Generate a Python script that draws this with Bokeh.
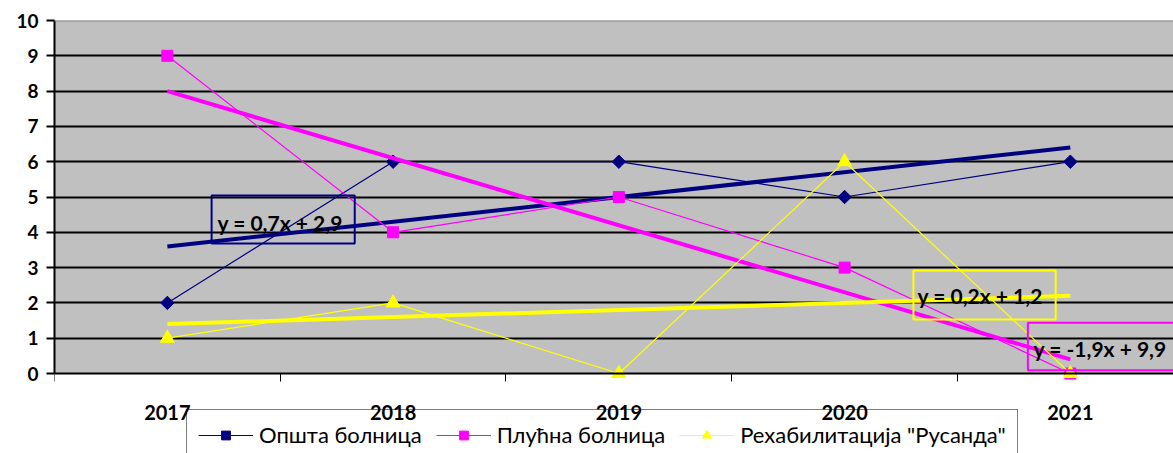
import numpy as np
from bokeh.plotting import figure
from bokeh.models import (Range1d, FixedTicker, Legend, LegendItem, LinearAxis,
                          BoxAnnotation, Label, Span)
from bokeh.embed import file_html
from bokeh.resources import INLINE

# ---- data ----
years = ["2017", "2018", "2019", "2020", "2021"]
opsta = [2, 6, 6, 5, 6]
plucna = [9, 4, 5, 3, 0]
rehab = [1, 2, 0, 6, 0]
series_names = ["Општа болница", "Плућна болница", "Рехабилитација \"Русанда\""]
colors = ["#000080", "#FF00FF", "#FFFF00"]
markers = ["square", "square", "triangle"]
marker_angles = [np.pi / 4, 0, 0]
marker_sizes = [9.5, 11, 14]
y_ticks = list(range(0, 11))

# equation box positions (data units): left, right, bottom, top, text x, text y
eq_boxes = [
    (1.196, 1.830, 3.68, 5.04, 1.222, 4.28),
    (4.812, 5.700, 0.09, 1.44, 4.837, 0.71),
    (4.305, 4.935, 1.53, 2.92, 4.323, 2.21),
]

x = np.arange(1, len(years) + 1)
FONT = "Lato"

p = figure(width=1173, height=453,
           x_range=Range1d(0.5, 5.457), y_range=Range1d(-2.266, 10),
           output_backend="svg", toolbar_location=None,
           x_axis_location=None, y_axis_location=None,
           min_border_left=54, min_border_right=0, min_border_top=20,
           min_border_bottom=0,
           background_fill_color="white", border_fill_color="white")
p.outline_line_color = None

# gray plot area (0..10)
p.add_layout(BoxAnnotation(bottom=0, top=10, fill_color="#C0C0C0", fill_alpha=1,
                           line_alpha=0, level="image"))
p.add_layout(Span(location=10, dimension="width", line_color="#808080", line_width=2))

# x axis (drawn at y=0)
xaxis = LinearAxis(fixed_location=0)
xaxis.ticker = FixedTicker(ticks=list(x), minor_ticks=[0.5 + i for i in range(len(years) + 1)])
xaxis.major_label_overrides = {int(i): yr for i, yr in zip(x, years)}
xaxis.major_tick_out = 0
xaxis.major_tick_in = 0
xaxis.minor_tick_out = 8
xaxis.minor_tick_in = 0
xaxis.minor_tick_line_color = "black"
xaxis.minor_tick_line_width = 1
xaxis.axis_line_color = "black"
xaxis.axis_line_width = 2
xaxis.major_label_standoff = 23
xaxis.major_label_text_font = FONT
xaxis.major_label_text_font_style = "bold"
xaxis.major_label_text_font_size = "20px"
xaxis.major_label_text_color = "black"
p.add_layout(xaxis, "below")

# y axis
yaxis = LinearAxis(bounds=(0, 10))
yaxis.ticker = FixedTicker(ticks=y_ticks, minor_ticks=[])
yaxis.major_tick_out = 8
yaxis.major_tick_in = 0
yaxis.major_tick_line_color = "black"
yaxis.major_tick_line_width = 2
yaxis.axis_line_color = "black"
yaxis.axis_line_width = 2
yaxis.major_label_standoff = 8
yaxis.major_label_text_font = FONT
yaxis.major_label_text_font_style = "bold"
yaxis.major_label_text_font_size = "19px"
yaxis.major_label_text_color = "black"
p.add_layout(yaxis, "left")

p.xgrid.visible = False
p.ygrid.ticker = FixedTicker(ticks=y_ticks[1:-1])
p.ygrid.grid_line_color = "black"
p.ygrid.grid_line_width = 2

items = []
for vals, name, col, mk, ma, ms, box in zip([opsta, plucna, rehab], series_names,
                                            colors, markers, marker_angles,
                                            marker_sizes, eq_boxes):
    vals = np.array(vals, dtype=float)
    m, b = np.polyfit(x, vals, 1)
    xs = np.array([x[0], x[-1]], dtype=float)
    p.line(xs, m * xs + b, line_color=col, line_width=4)
    ln = p.line(x, vals, line_color=col, line_width=1.2)
    sc = p.scatter(x, vals, marker=mk, angle=ma, size=ms, fill_color=col, line_color=col)
    items.append(LegendItem(label=name, renderers=[ln, sc]))

    sign = "+" if b >= 0 else "-"
    eq = f"y = {m:.1f}x {sign} {abs(b):.1f}".replace(".", ",")
    left, right, bottom, top, tx, ty = box
    p.add_layout(BoxAnnotation(left=left, right=right, bottom=bottom, top=top,
                               fill_alpha=0, line_color=col, line_alpha=1,
                               line_width=2))
    p.add_layout(Label(x=tx, y=ty, text=eq, text_font=FONT, text_font_style="bold",
                       text_font_size="21px", text_color="black",
                       text_baseline="middle", text_align="left"))

legend = Legend(items=items, orientation="horizontal", location=(132, -7),
                border_line_color="black", border_line_width=1,
                background_fill_alpha=0,
                label_text_font=FONT, label_text_font_size="22px",
                label_text_color="black",
                glyph_width=55, glyph_height=22, label_height=22,
                label_standoff=6, spacing=14, padding=11, margin=0)
p.add_layout(legend)

open("out.html", "w").write(file_html(p, INLINE))
